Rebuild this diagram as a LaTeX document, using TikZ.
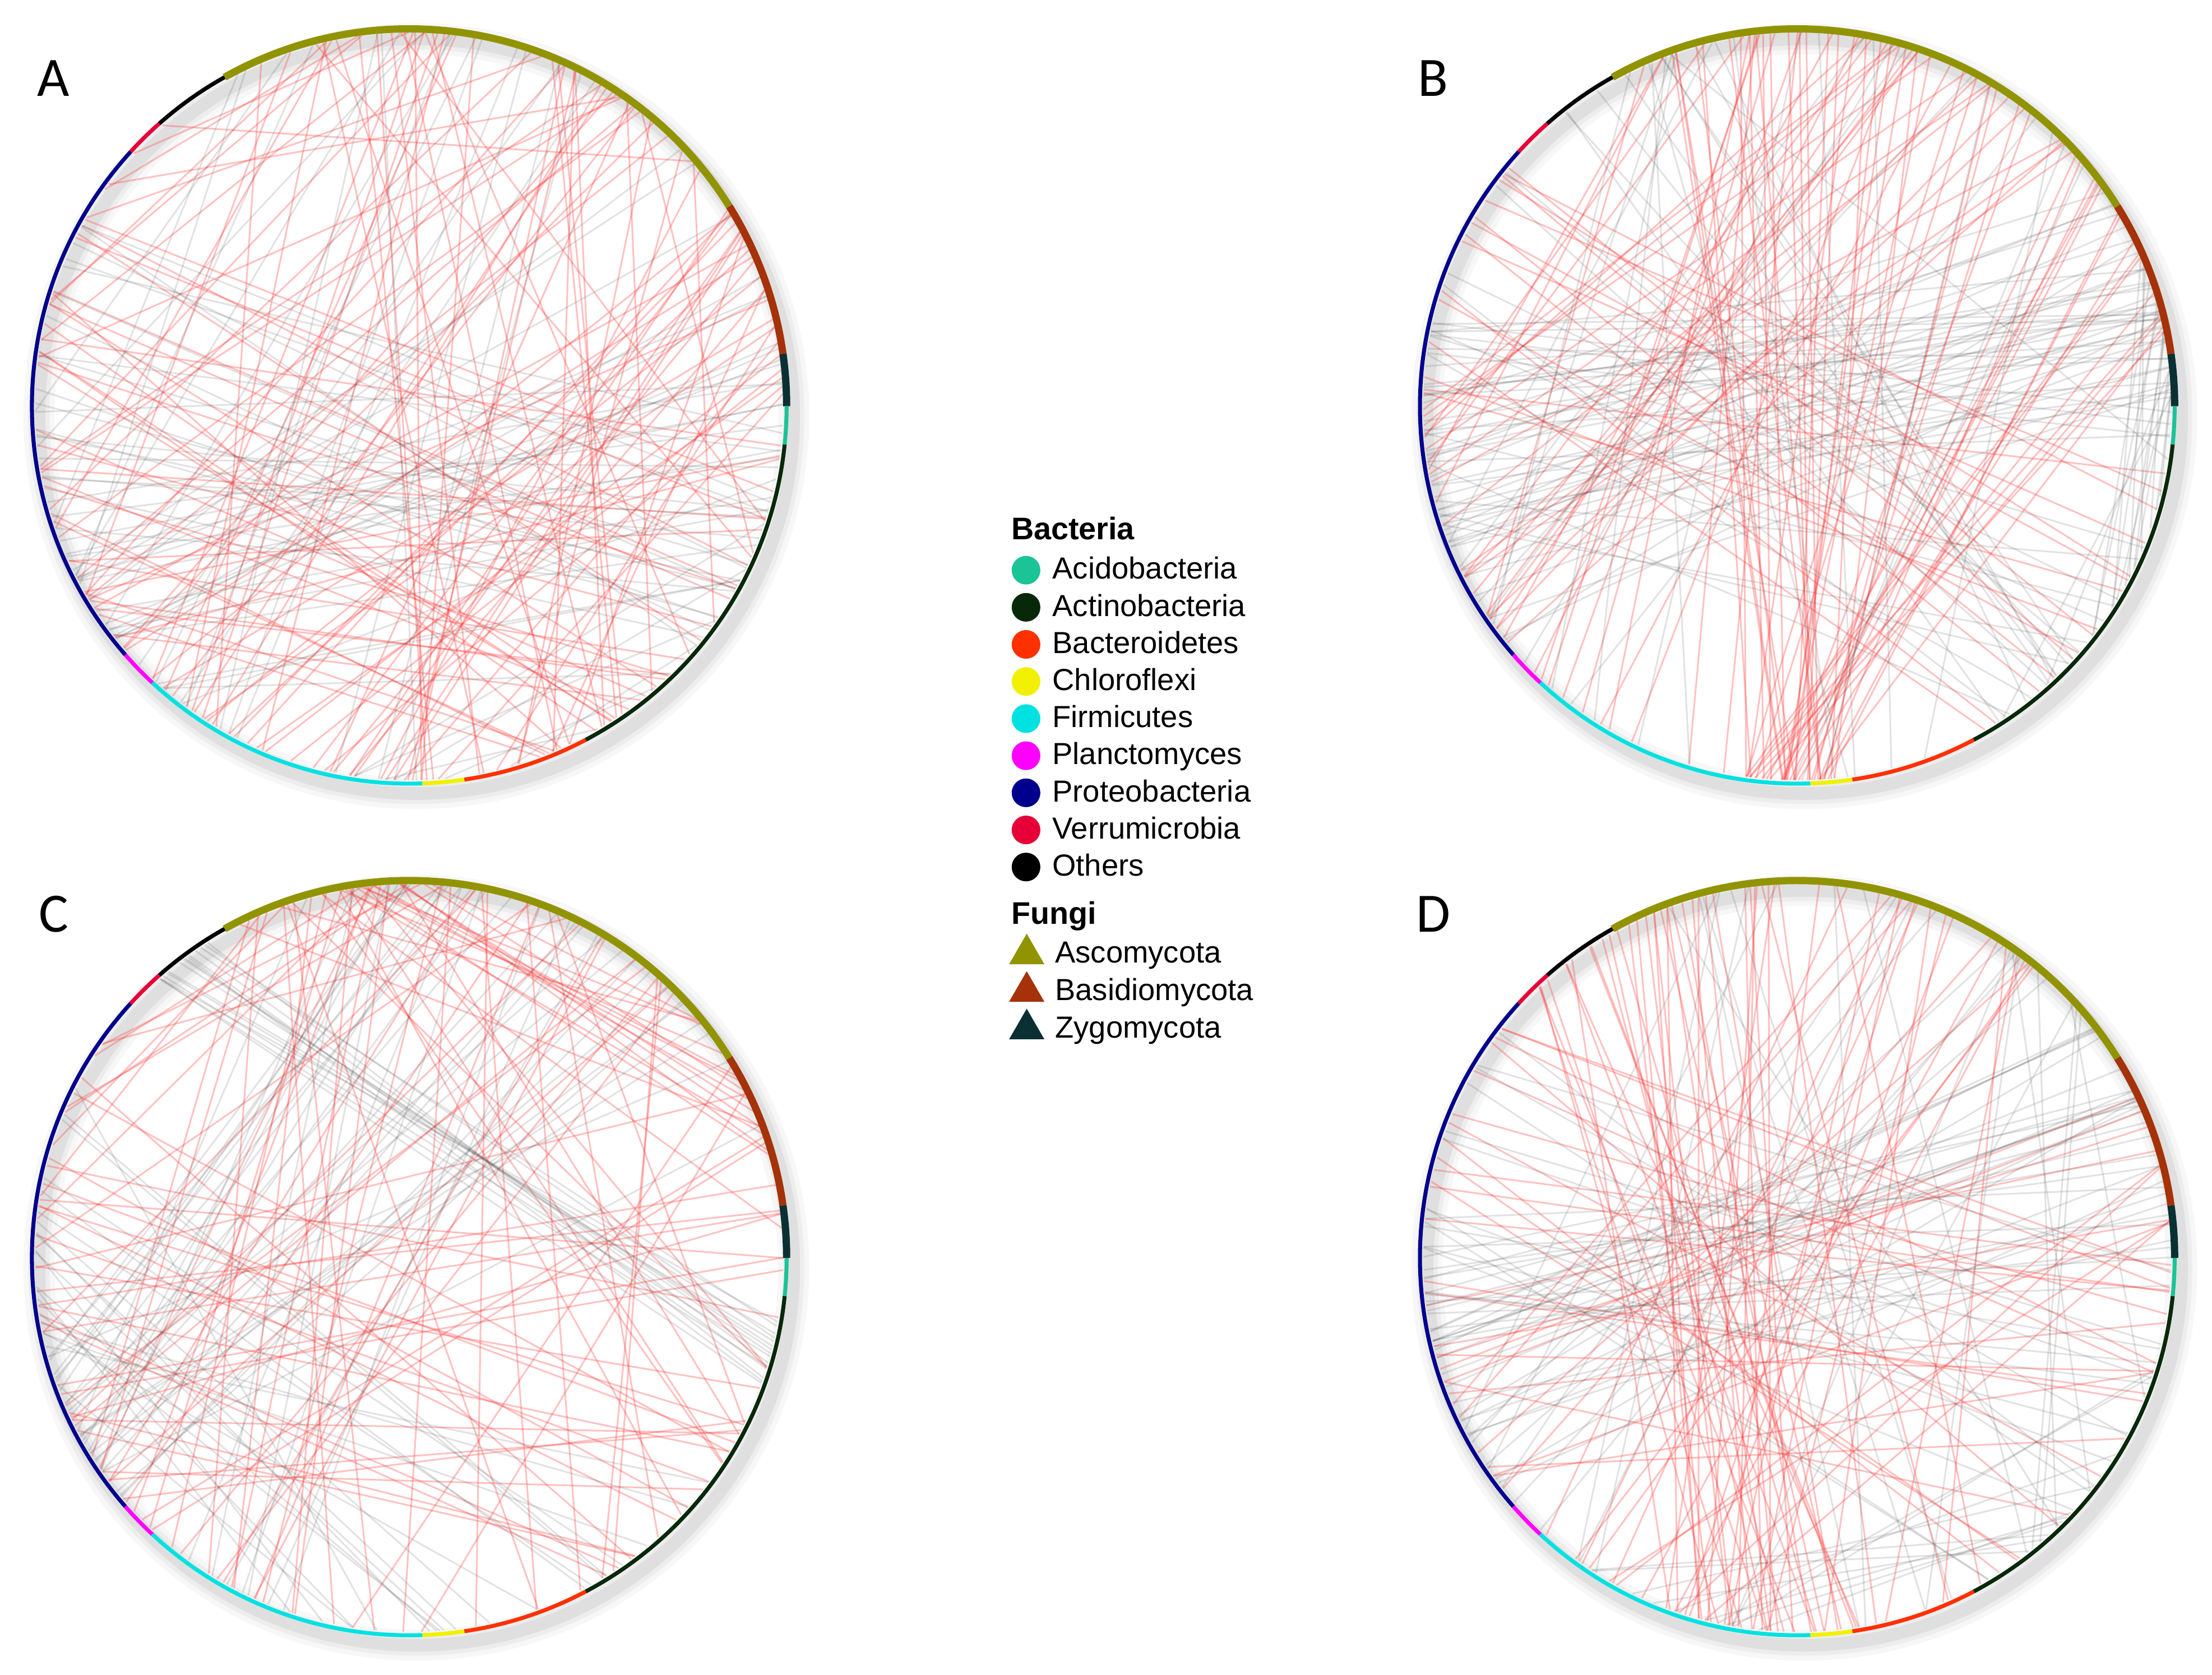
\documentclass[tikz,border=0pt]{standalone}
\usepackage{fontspec}
\setmainfont{Liberation Sans}
\newfontfamily\letterfont{Carlito}
\usetikzlibrary{positioning}
\usetikzlibrary{shapes.geometric}

\definecolor{cAcido}{RGB}{26,196,150}
\definecolor{cActino}{RGB}{8,40,10}
\definecolor{cBactero}{RGB}{255,48,0}
\definecolor{cChloro}{RGB}{240,240,0}
\definecolor{cFirmi}{RGB}{0,225,225}
\definecolor{cPlancto}{RGB}{255,0,255}
\definecolor{cProteo}{RGB}{0,0,140}
\definecolor{cVerru}{RGB}{230,0,55}
\definecolor{cAsco}{RGB}{145,148,0}
\definecolor{cBasidio}{RGB}{165,50,8}
\definecolor{cZygo}{RGB}{10,48,52}
\definecolor{cPos}{RGB}{255,50,50}

\tikzset{
  poslink/.style={cPos, opacity=0.3, line width=0.24mm},
  neglink/.style={black!70, opacity=0.16, line width=0.24mm},
  dot/.style={circle, minimum size=4.06mm, inner sep=0pt, outer sep=0pt},
  tri/.style={regular polygon, regular polygon sides=3, minimum size=5.78mm, inner sep=0pt, outer sep=0pt},
  legtext/.style={inner sep=0pt, text height=0.716em, text depth=0pt, font=\fontsize{12.3pt}{14pt}\selectfont},
  legtitle/.style={inner sep=0pt, font=\fontsize{12.6pt}{14pt}\selectfont\bfseries},
  panelletter/.style={inner sep=0pt, anchor=base, font=\fontsize{22.4pt}{26pt}\selectfont\letterfont},
}

% one circular network: centre, seed, groups of links
\newcommand{\ringpanel}[3]{%
  \begin{scope}[shift={(#1)}]
    \pgfmathsetseed{#2}
    % soft shadow
    \foreach \w/\o in {22/0.03,15/0.04,9/0.06}
      \draw[line width=\w*0.2mm, black, opacity=\o] (5,-7) circle[radius=267.5];
    % links
    \foreach \cnt/\lk/\pa/\pb/\qa/\qb in {#3} {
      \foreach \k in {1,...,\cnt} {
        \pgfmathsetmacro\sa{\pa+rnd*(\pb-\pa)}
        \pgfmathsetmacro\sb{\qa+rnd*(\qb-\qa)}
        \coordinate (u) at (\sa:265);
        \coordinate (v) at (\sb:265);
        \draw[\lk] (u) -- (v);
      }
    }
    % phyla around the ring
    \foreach \a/\b/\col/\w in {0/8/cZygo/1.03mm, 8/32/cBasidio/1.03mm, 32/119.3/cAsco/1.03mm,
        119.3/131.5/black/0.56mm, 131.5/137.6/cVerru/0.56mm, 137.6/221.2/cProteo/0.56mm,
        221.2/227.1/cPlancto/0.56mm, 227.1/272/cFirmi/0.56mm, 272/278.4/cChloro/0.56mm,
        278.4/297.9/cBactero/0.56mm, 297.9/354.2/cActino/0.56mm, 354.2/360/cAcido/0.56mm}
      \draw[line width=\w, \col] (\a:267.5) arc[start angle=\a, end angle=\b, radius=267.5];
  \end{scope}}

\begin{document}
\begin{tikzpicture}[x=0.2mm, y=0.2mm]
  \useasboundingbox (0,0) rectangle (1568,1187);

  \coordinate (A) at (290.1,899);
  \coordinate (B) at (1274,899);
  \coordinate (C) at (290.1,295.3);
  \coordinate (D) at (1274,295.3);

  \ringpanel{A}{11}{40/poslink/40/118/200/350, 30/poslink/150/220/290/355, 15/poslink/40/118/130/215,
    15/poslink/225/275/0/40, 12/poslink/0/32/200/300, 25/neglink/150/222/320/360,
    20/neglink/40/118/180/300, 12/neglink/0/32/180/230, 10/neglink/225/290/300/350}
  \ringpanel{B}{23}{35/poslink/262/276/35/110, 10/poslink/262/276/0/35, 25/poslink/180/222/40/115,
    15/poslink/140/180/300/350, 10/poslink/225/260/60/100, 40/neglink/0/35/160/222,
    25/neglink/300/360/100/200, 20/neglink/40/118/200/300, 15/neglink/0/30/300/350}
  \ringpanel{C}{37}{50/poslink/45/118/140/350, 20/poslink/150/222/300/360, 15/poslink/85/118/0/40,
    10/poslink/0/32/180/280, 15/neglink/122/132/340/352, 25/neglink/195/222/20/110,
    20/neglink/150/200/250/340, 10/neglink/40/100/200/260}
  \ringpanel{D}{41}{30/poslink/95/135/250/280, 25/poslink/50/100/200/300, 20/poslink/140/220/300/360,
    10/poslink/0/30/180/260, 30/neglink/170/220/0/40, 25/neglink/40/118/200/340,
    15/neglink/300/360/140/200, 10/neglink/225/270/300/350}

  \node[panelletter] (la) at (38,1118.7) {A};
  \node[panelletter] (lb) at (1016,1118.7) {B};
  \node[panelletter] (lc) at (38,526.5) {C};
  \node[panelletter] (ld) at (1016,526.5) {D};

  % legend
  \node[legtitle, anchor=base west] (bact) at (716.5,804.5) {Bacteria};
  \foreach \lab/\col [count=\i] in {Acidobacteria/cAcido, Actinobacteria/cActino, Bacteroidetes/cBactero,
      Chloroflexi/cChloro, Firmicutes/cFirmi, Planctomyces/cPlancto, Proteobacteria/cProteo,
      Verrumicrobia/cVerru, Others/black} {
    \node[dot, fill=\col] (b\i) at (727.3,{782.8-26.3*(\i-1)}) {};
    \node[legtext, right=1.65mm of b\i] {\lab};
  }
  \node[legtitle, anchor=base west] (fung) at (716.5,532) {Fungi};
  \foreach \lab/\col [count=\i] in {Ascomycota/cAsco, Basidiomycota/cBasidio, Zygomycota/cZygo} {
    \node[tri, fill=\col] (f\i) at (727.8,{510.7-26.6*(\i-1)}) {};
    \node[legtext, right=2.3mm of f\i] {\lab};
  }
\end{tikzpicture}
\end{document}
